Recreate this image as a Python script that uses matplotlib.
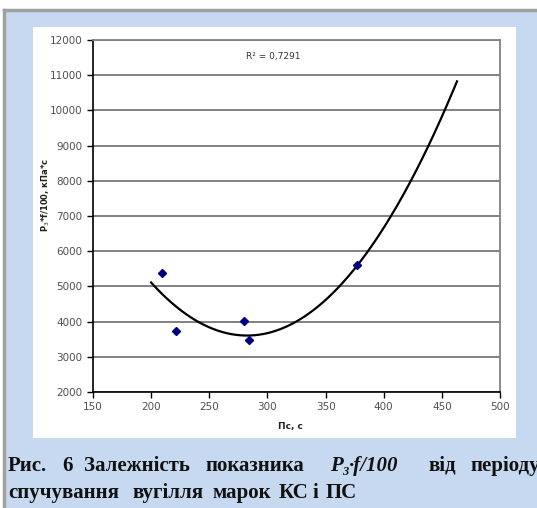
import numpy as np
import matplotlib
matplotlib.use("Agg")
import matplotlib.pyplot as plt
from matplotlib.patches import Rectangle
from matplotlib.lines import Line2D

# дані
pc = [209, 221, 280, 284, 377]            # Пс, с
p3f = [5380, 3730, 4020, 3480, 5610]      # P3*f/100, кПа*с

# точки лінії тренду (поліном 2-го порядку)
trend_x = [200, 240, 281, 350, 400, 463]
trend_y = [5080, 4000, 3660, 4690, 6500, 10890]
r2_text = "R² = 0,7291"

x_ticks = [150, 200, 250, 300, 350, 400, 450, 500]
y_ticks = [2000, 3000, 4000, 5000, 6000, 7000, 8000, 9000, 10000, 11000, 12000]

W, H = 537, 508
fig = plt.figure(figsize=(W / 100, H / 100), dpi=100)
fig.patch.set_facecolor("white")

def px(x, y, w, h):
    # прямокутник у пікселях (від верхнього лівого кута)
    return (x / W, 1 - (y + h) / H), w / W, h / H

# фон
xy, w, h = px(5, 11, W - 5, H - 11)
fig.patches.append(Rectangle(xy, w, h, transform=fig.transFigure, facecolor="#c6d9f1", edgecolor="none", zorder=0))
xy, w, h = px(33, 27, 483, 411)
fig.patches.append(Rectangle(xy, w, h, transform=fig.transFigure, facecolor="white", edgecolor="none", zorder=1))
# сіра рамка
fig.lines.append(Line2D([4 / W, 4 / W], [0, 1 - 10 / H], transform=fig.transFigure, color="#a0a0a0", lw=2.5))
fig.lines.append(Line2D([4 / W, 1], [1 - 10 / H, 1 - 10 / H], transform=fig.transFigure, color="#a0a0a0", lw=2.5))

ax = fig.add_axes([93 / W, 1 - 392 / H, (500 - 93) / W, (392 - 40) / H])
ax.set_zorder(5)
ax.set_facecolor("white")
ax.set_xlim(150, 500)
ax.set_ylim(2000, 12000)
ax.set_xticks(x_ticks)
ax.set_yticks(y_ticks)
ax.tick_params(labelsize=7.5, labelcolor="#505050", direction="out", length=4, width=1, color="black")
ax.yaxis.grid(True, color="#777777", lw=1.3)
ax.set_axisbelow(True)
ax.spines["left"].set_color("black")
ax.spines["bottom"].set_color("black")
ax.spines["left"].set_linewidth(1.2)
ax.spines["bottom"].set_linewidth(1.2)
ax.spines["top"].set_color("#808080")
ax.spines["right"].set_color("#808080")
ax.spines["top"].set_linewidth(1.3)
ax.spines["right"].set_linewidth(1.3)

# лінія тренду
coef = np.polyfit(trend_x, trend_y, 2)
xs = np.linspace(trend_x[0], trend_x[-1], 200)
ax.plot(xs, np.polyval(coef, xs), color="black", lw=1.6, zorder=3)

ax.plot(pc, p3f, linestyle="none", marker="D", markersize=4.5, color="#000080", zorder=4)

ax.text(282, 11530, r2_text, fontsize=6.5, color="#333333", va="center", ha="left")

fig.text(46 / W, 1 - 195 / H, "P$_3$*f/100, кПа*с", rotation=90, fontsize=6, fontweight="bold",
         ha="center", va="center", color="#222222", zorder=6)
fig.text(290 / W, 1 - 426 / H, "Пс, с", fontsize=6.5, fontweight="bold", ha="center", va="center",
         color="#222222", zorder=6)

# підпис рисунка
fs = 15
cap = dict(fontsize=fs, fontweight="bold", family="Liberation Serif", color="#111111", va="baseline")
base1 = 1 - 471 / H
base2 = 1 - 498 / H
line1 = [("Рис.", 8), ("6", 62), ("Залежність", 84), ("показника", 205), ("P", 330),
         ("від", 428), ("періоду", 470)]
line2 = [("спучування", 8), ("вугілля", 132), ("марок", 212), ("КС", 279), ("і", 313), ("ПС", 326)]
for txt, x in line1:
    if txt == "P":
        fig.text(x / W, base1, "P", fontstyle="italic", **cap)
        fig.text((x + 12) / W, base1 - 4 / H, "3", fontstyle="italic", fontsize=fs * 0.6, fontweight="bold",
                 family="Liberation Serif", color="#111111", va="baseline")
        fig.text((x + 19) / W, base1, "·f/100", fontstyle="italic", **cap)
    else:
        fig.text(x / W, base1, txt, **cap)
for txt, x in line2:
    fig.text(x / W, base2, txt, **cap)

fig.savefig("out.png", dpi=100)
